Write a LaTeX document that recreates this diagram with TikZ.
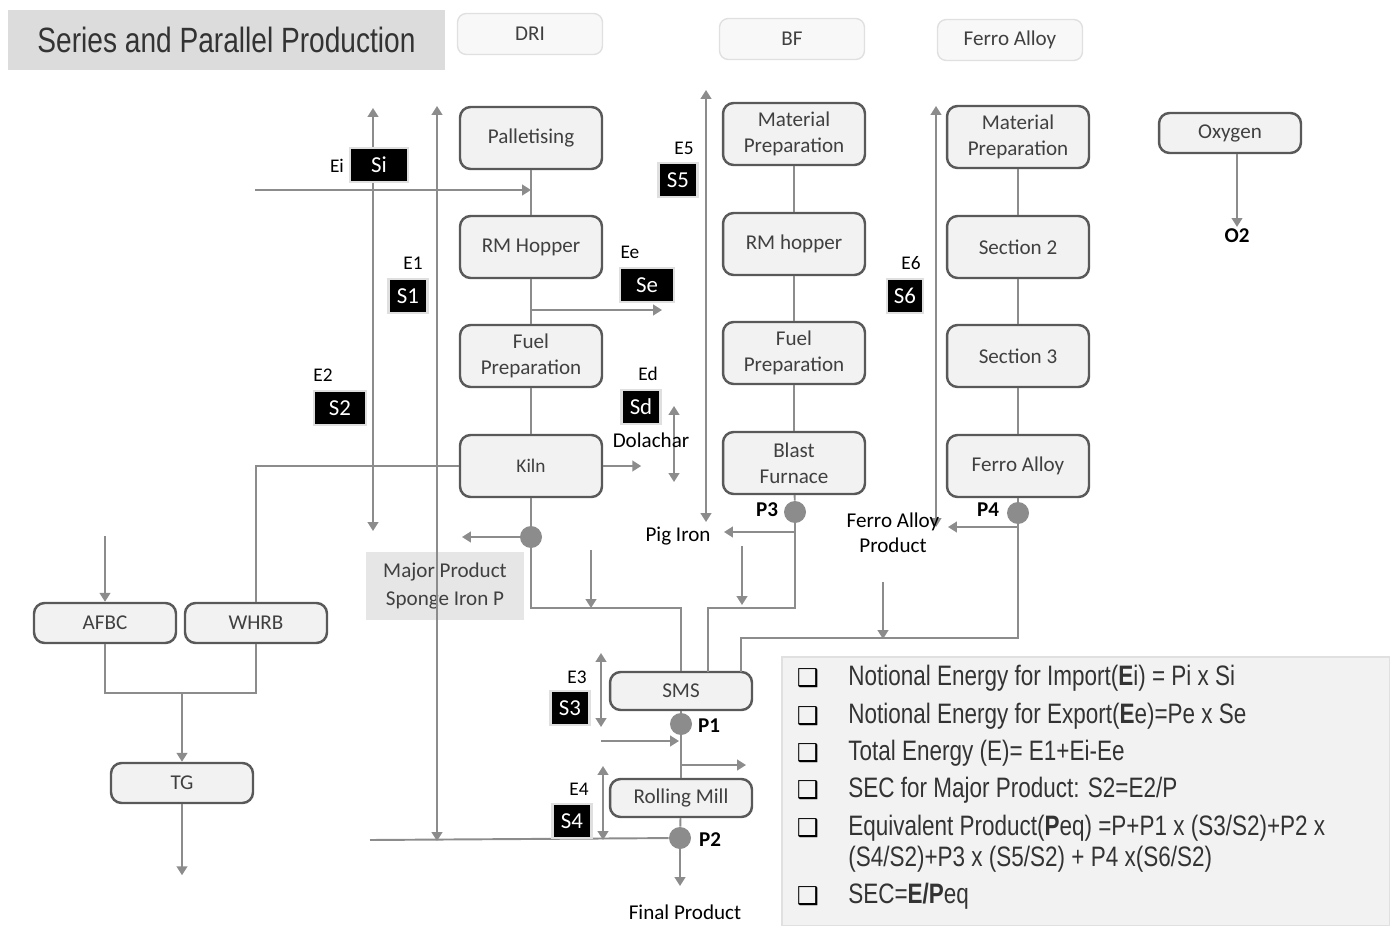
\documentclass[tikz,border=0pt]{standalone}
\usepackage{fontspec}
\setmainfont{Carlito}
\newfontfamily\narrow[FakeStretch=0.8]{Liberation Sans}
\newfontfamily\sym{DejaVu Sans}
\usetikzlibrary{arrows.meta,calc}
\definecolor{conn}{HTML}{8C8C8C}
\definecolor{boxline}{HTML}{595959}
\definecolor{boxfill}{HTML}{F2F2F2}
\definecolor{boxtext}{HTML}{404040}
\definecolor{titlefill}{HTML}{DCDCDC}
\definecolor{hdrfill}{HTML}{F8F8F8}
\definecolor{hdrline}{HTML}{E0E0E0}
\definecolor{majfill}{HTML}{E6E6E6}
\definecolor{formfill}{HTML}{F2F2F2}
\definecolor{formtext}{HTML}{333333}
\begin{document}
\begin{tikzpicture}[x=0.02cm,y=-0.02cm,
  proc/.style={draw=boxline,fill=boxfill,rounded corners=6pt,line width=1.4pt,minimum width=2.84cm,minimum height=1.24cm,align=center,text=boxtext,font=\fontsize{12}{15}\selectfont,inner sep=1pt},
  smallbox/.style={proc,minimum height=0.8cm},
  hdr/.style={draw=hdrline,fill=hdrfill,rounded corners=5pt,line width=0.8pt,minimum width=2.9cm,minimum height=0.82cm,text=boxtext,font=\fontsize{12}{14}\selectfont},
  line/.style={draw=conn,line width=1.1pt},
  arr/.style={line,-{Triangle[length=5pt,width=6pt]}},
  darr/.style={line,{Triangle[length=5pt,width=6pt]}-{Triangle[length=5pt,width=6pt]}},
  blk/.style={fill=black,draw=gray!25,line width=1.5pt,text=white,font=\fontsize{13}{15}\selectfont,minimum width=0.78cm,minimum height=0.68cm,inner sep=1pt},
  elab/.style={font=\fontsize{11}{13}\selectfont,text=black,inner sep=1pt},
  lab/.style={font=\fontsize{12}{14}\selectfont,text=black,inner sep=1pt,align=center},
  plab/.style={font=\bfseries\fontsize{12}{14}\selectfont,text=black,inner sep=1pt},
  dot/.style={circle,fill=conn,minimum size=0.44cm,inner sep=0pt},
  bul/.style={font=\sym\fontsize{14}{16}\selectfont,text=black,inner sep=0pt},
  ftxt/.style={font=\narrow\fontsize{16}{18}\selectfont,text=formtext,anchor=west,inner sep=0pt}
]
\useasboundingbox (0,0) rectangle (1390,926);

% title and headers
\node[fill=titlefill,minimum width=8.74cm,minimum height=1.2cm,inner sep=0pt,font=\narrow\fontsize{20}{22}\selectfont,text=formtext] (title) at (226.5,40) {Series and Parallel Production};
\node[hdr] (hdri) at (530,34) {DRI};
\node[hdr] (hbf) at (792,39) {BF};
\node[hdr] (hfa) at (1010,40) {Ferro Alloy};

% major product box (behind line)
\node[fill=majfill,minimum width=3.16cm,minimum height=1.38cm,align=center,font=\fontsize{12}{16}\selectfont,text=boxtext,inner sep=1pt] (major) at (445,586) {Major Product\\Sponge Iron P};

% formula box
\node[fill=formfill,draw=hdrline,line width=0.8pt,minimum width=12.16cm,minimum height=5.38cm,inner sep=0pt] (formula) at (1086,791.5) {};

% DRI column
\node[proc] (pal) at (531,138) {Palletising};
\node[proc] (rmh) at (531,247) {RM Hopper};
\node[proc] (fp1) at (531,356) {Fuel\\Preparation};
\node[proc,font=\fontsize{11}{13}\selectfont] (kiln) at (531,466) {Kiln};
% BF column
\node[proc] (mp2) at (794,134) {Material\\Preparation};
\node[proc] (rmh2) at (794,244) {RM hopper};
\node[proc] (fp2) at (794,353) {Fuel\\Preparation};
\node[proc] (bfur) at (794,463) {Blast\\Furnace};
% Ferro alloy column
\node[proc] (mp3) at (1018,137) {Material\\Preparation};
\node[proc] (sec2) at (1018,247) {Section 2};
\node[proc] (sec3) at (1018,356) {Section 3};
\node[proc] (fa) at (1018,466) {Ferro Alloy};
% others
\node[smallbox] (oxy) at (1230,133) {Oxygen};
\node[plab] (o2) at (1237,236) {O2};
\node[smallbox] (afbc) at (105,623) {AFBC};
\node[smallbox] (whrb) at (256,623) {WHRB};
\node[smallbox] (tg) at (182,783) {TG};
\node[proc,minimum height=0.76cm] (sms) at (681,691) {SMS};
\node[proc,minimum height=0.76cm] (rm) at (681,798) {Rolling Mill};

% dots
\node[dot] (d0) at (531,537) {};
\node[dot] (p3) at (795,512) {};
\node[dot] (p4) at (1018,513) {};
\node[dot] (p1) at (681,724) {};
\node[dot] (p2) at (680,838) {};

% coordinates for free ends
\coordinate (smsB) at (708,672);
\coordinate (smsC) at (741,672);
\coordinate (ei0) at (255,190);
\coordinate (ei1) at (531,190);
\coordinate (se0) at (531,310);
\coordinate (se1) at (662,310);
\coordinate (dolT) at (674,406);
\coordinate (dolB) at (674,482);
\coordinate (e1T) at (373,108);
\coordinate (e1B) at (373,531);
\coordinate (e2T) at (437,106);
\coordinate (e2B) at (437,841);
\coordinate (e5T) at (706,90);
\coordinate (e5B) at (706,522);
\coordinate (e6T) at (936,106);
\coordinate (e6B) at (936,527);
\coordinate (e3T) at (601,653);
\coordinate (e3B) at (601,727);
\coordinate (e4T) at (603,766);
\coordinate (e4B) at (603,840);
\coordinate (hl0) at (370,840);
\coordinate (a1) at (601,741);
\coordinate (a1e) at (679,741);
\coordinate (a2) at (681,765);
\coordinate (a2e) at (746,765);
\coordinate (dn1) at (591,550);
\coordinate (dn1e) at (591,608);
\coordinate (dn2) at (742,546);
\coordinate (dn2e) at (742,605);
\coordinate (dn3) at (883,582);
\coordinate (dn3e) at (883,639);
\coordinate (af0) at (105,536);
\coordinate (tgj) at (182,692);

% column connectors
\draw[line] (pal) -- (rmh);
\draw[line] (rmh) -- (fp1);
\draw[line] (fp1) -- (kiln);
\draw[line] (mp2) -- (rmh2);
\draw[line] (rmh2) -- (fp2);
\draw[line] (fp2) -- (bfur);
\draw[line] (mp3) -- (sec2);
\draw[line] (sec2) -- (sec3);
\draw[line] (sec3) -- (fa);

% DRI flows
\draw[arr] (ei0) -- (ei1);
\draw[arr] (se0) -- (se1);
\draw[line] (kiln) -- (d0);
\draw[line] (d0) -- ++(0,71) -| (sms.north);
\draw[arr] (d0) -- ++(-69,0);
\draw[line] (kiln.west) -| (whrb.north);
\draw[arr] (kiln.east) -- ++(38,0);
\draw[darr] (dolT) -- (dolB);
\draw[darr] (e1T) -- (e1B);
\draw[darr] (e2T) -- (e2B);
\draw[arr] (dn1) -- (dn1e);

% BF flows
\draw[line] (bfur) -- (p3);
\draw[line] (p3) -- ++(0,96) -| (smsB);
\draw[arr] ($(p3)+(0,20)$) -- ++(-71,0);
\draw[darr] (e5T) -- (e5B);
\draw[arr] (dn2) -- (dn2e);

% Ferro alloy flows
\draw[line] (fa) -- (p4);
\draw[line] (p4) -- ++(0,125) -| (smsC);
\draw[arr] ($(p4)+(0,14)$) -- ++(-70,0);
\draw[darr] (e6T) -- (e6B);
\draw[arr] (dn3) -- (dn3e);

% oxygen
\draw[arr] (oxy.south -| o2.north) -- (o2.north);

% SMS / rolling mill
\draw[line] (sms) -- (p1);
\draw[line] (p1) -- (rm);
\draw[darr] (e3T) -- (e3B);
\draw[darr] (e4T) -- (e4B);
\draw[arr] (a1) -- (a1e);
\draw[arr] (a2) -- (a2e);
\draw[line] (rm) -- (p2);
\draw[line] (p2) -- (hl0);
\draw[arr] (p2) -- ++(0,48);

% power plant
\draw[arr] (af0) -- (afbc.north);
\draw[line] (afbc.south) -- ++(0,49) -| (whrb.south);
\draw[arr] (tgj) -- (tg.north);
\draw[arr] (tg.south) -- ++(0,71);

% black labels
\node[blk,minimum width=1.16cm] (si) at (379,165) {Si};
\node[blk] (s1) at (408,296) {S1};
\node[blk,minimum width=1.04cm] (s2) at (340,408) {S2};
\node[blk,minimum width=1.08cm] (se) at (647,285) {Se};
\node[blk] (sd) at (641,407) {Sd};
\node[blk] (s5) at (678,180) {S5};
\node[blk,minimum width=0.72cm] (s6) at (905,296) {S6};
\node[blk] (s3) at (570,708) {S3};
\node[blk] (s4) at (572,821) {S4};

% E labels
\node[elab] (ei) at (337,166) {Ei};
\node[elab] (e1) at (413,263) {E1};
\node[elab] (e2) at (323,375) {E2};
\node[elab] (ee) at (630,252) {Ee};
\node[elab] (ed) at (648,374) {Ed};
\node[elab] (e5) at (684,148) {E5};
\node[elab] (e6) at (911,263) {E6};
\node[elab] (e3) at (577,677) {E3};
\node[elab] (e4) at (579,789) {E4};

% text labels
\node[lab] (dol) at (651,440) {Dolachar};
\node[lab] (pig) at (678,536) {Pig Iron};
\node[lab] (fap) at (893,533) {Ferro Alloy\\Product};
\node[lab] (final) at (685,912) {Final Product};
\node[plab] (lp3) at (767,510) {P3};
\node[plab] (lp4) at (988,510) {P4};
\node[plab] (lp1) at (709,726) {P1};
\node[plab] (lp2) at (710,840) {P2};

% formula lines
\node[bul] (b1) at (808,678) {❑};
\node[bul] (b2) at (808,716) {❑};
\node[bul] (b3) at (808,753) {❑};
\node[bul] (b4) at (808,790) {❑};
\node[bul] (b5) at (808,828) {❑};
\node[bul] (b6) at (808,896) {❑};
\node[ftxt] (f1) at (848,678) {Notional Energy for Import(\textbf{E}i) = Pi x Si};
\node[ftxt] (f2) at (848,716) {Notional Energy for Export(\textbf{E}e)=Pe x Se};
\node[ftxt] (f3) at (848,753) {Total Energy (E)= E1+Ei-Ee};
\node[ftxt] (f4) at (848,790) {SEC for Major Product: S2=E2/P};
\node[ftxt] (f5) at (848,828) {Equivalent Product(\textbf{P}eq) =P+P1 x (S3/S2)+P2 x};
\node[ftxt] (f5b) at (848,859) {(S4/S2)+P3 x (S5/S2) + P4 x(S6/S2)};
\node[ftxt] (f6) at (848,896) {SEC=\textbf{E/P}eq};
\end{tikzpicture}
\end{document}
